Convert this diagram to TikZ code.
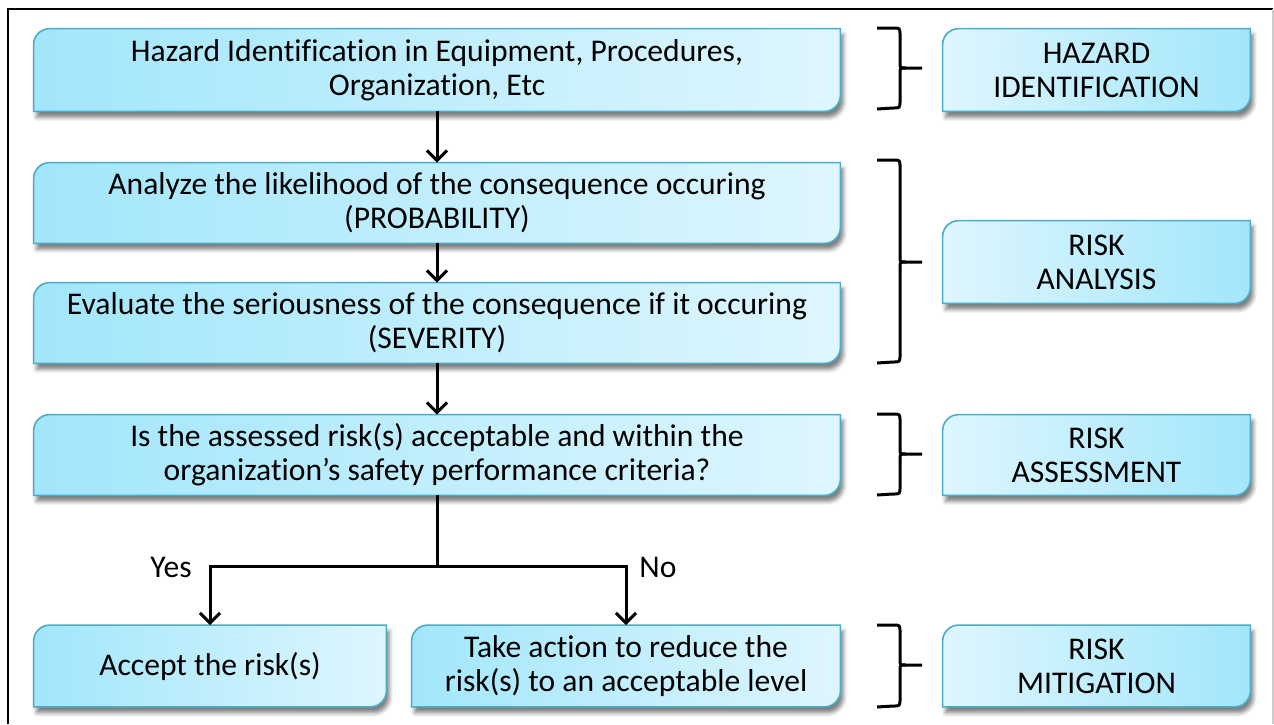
\documentclass[tikz,border=0pt]{standalone}
\usepackage{fontspec}
\setmainfont[Ligatures=NoCommon]{Carlito}
\usetikzlibrary{calc,arrows.meta,shadows.blur}
\pgfdeclarelayer{background}
\pgfsetlayers{background,main}
\definecolor{bdark}{RGB}{162,230,251}
\definecolor{blight}{RGB}{222,246,254}
\definecolor{bborder}{RGB}{75,172,198}
\tikzset{
  txt/.style={align=center, inner sep=0pt, font=\fontsize{15.8}{17}\selectfont},
  boxnode/.style={txt, minimum height=40pt},
  shadowed/.style={draw=bborder, line width=0.8pt,
    blur shadow={shadow xshift=1.5pt, shadow yshift=-3pt, shadow blur radius=2pt, shadow opacity=50}},
  lshade/.style={shadowed, left color=bdark, right color=blight},
  rshade/.style={shadowed, left color=blight, right color=bdark},
  arr/.style={line width=1.5pt, -{Straight Barb[length=5pt,width=10pt]}},
  plainline/.style={line width=1.5pt},
  bracestroke/.style={line width=1.5pt, line join=round}
}
\newcommand\myrr{8pt}
\newcommand\myrq{3.6pt}
\newcommand\shapebox[2]{%
  \path[#2] ($(#1.north west)+(\myrr,0)$) -- (#1.north east)
    -- ($(#1.south east)+(0,\myrr)$)
    .. controls ($(#1.south east)+(0,\myrq)$) and ($(#1.south east)+(-\myrq,0)$) .. ($(#1.south east)+(-\myrr,0)$)
    -- (#1.south west) -- ($(#1.north west)+(0,-\myrr)$)
    .. controls ($(#1.north west)+(0,-\myrq)$) and ($(#1.north west)+(\myrq,0)$) .. cycle;}
\newcommand\bracketshape[3]{% top, bottom, middle (px)
  \draw[bracestroke] (877,#1) -- (893,#1) .. controls (900,#1) and (900,#1) .. (900,{#1+7})
    -- (900,{#3-5}) .. controls (900,#3) and (900,#3) .. (906,#3) -- (922,#3);
  \draw[bracestroke] (906,#3) .. controls (900,#3) and (900,#3) .. (900,{#3+5})
    -- (900,{#2-7}) .. controls (900,#2) and (900,#2) .. (893,#2) -- (877,{#2+1});}
\begin{document}
\begin{tikzpicture}[x=0.5pt,y=-0.5pt]
\useasboundingbox (0,0) rectangle (1274,724);
% frame
\draw[line width=1pt] (8,724) -- (8,9) -- (1273,9);
\draw[black!20, line width=0.6pt] (1273,9) -- (1273,724);

% left boxes
\node[boxnode, minimum width=403pt, minimum height=41pt] (b1) at (437,70) {Hazard Identification in Equipment, Procedures,\\Organization, Etc};
\node[boxnode, minimum width=403pt] (b2) at (437,203) {Analyze the likelihood of the consequence occuring\\(PROBABILITY)};
\node[boxnode, minimum width=403pt] (b3) at (437,323) {Evaluate the seriousness of the consequence if it occuring\\(SEVERITY)};
\node[boxnode, minimum width=403pt] (b4) at (437,455) {Is the assessed risk(s) acceptable and within the\\organization’s safety performance criteria?};
\node[boxnode, minimum width=176pt, minimum height=40.5pt] (b5) at (210,666) {Accept the risk(s)};
\node[boxnode, minimum width=214pt, minimum height=40.5pt] (b6) at (626,666) {Take action to reduce the\\risk(s) to an acceptable level};

% right boxes
\node[boxnode, minimum width=153.5pt, minimum height=41pt] (r1) at (1096.5,70) {HAZARD\\IDENTIFICATION};
\node[boxnode, minimum width=153.5pt, minimum height=41pt] (r2) at (1096.5,262) {RISK\\ANALYSIS};
\node[boxnode, minimum width=153.5pt] (r3) at (1096.5,455) {RISK\\ASSESSMENT};
\node[boxnode, minimum width=153.5pt, minimum height=40.5pt] (r4) at (1096.5,666) {RISK\\MITIGATION};

\begin{pgfonlayer}{background}
  \shapebox{b1}{lshade}
  \shapebox{b2}{lshade}
  \shapebox{b3}{lshade}
  \shapebox{b4}{lshade}
  \shapebox{b5}{lshade}
  \shapebox{b6}{lshade}
  \shapebox{r1}{rshade}
  \shapebox{r2}{rshade}
  \shapebox{r3}{rshade}
  \shapebox{r4}{rshade}
\end{pgfonlayer}

% connectors
\draw[arr] (b1) -- (b2);
\draw[arr] (b2) -- (b3);
\draw[arr] (b3) -- (b4);
\coordinate (j) at (437,566);
\draw[plainline] (b4) -- (j);
\draw[arr] (j) -| (b5);
\draw[arr] (j) -| (b6);
\node[txt] (yes) at (171,567) {Yes};
\node[txt] (no) at (658,567) {No};

% brackets
\bracketshape{28}{108}{68}
\bracketshape{160}{362}{262}
\bracketshape{414}{494}{454}
\bracketshape{625}{706}{665}
\end{tikzpicture}
\end{document}
